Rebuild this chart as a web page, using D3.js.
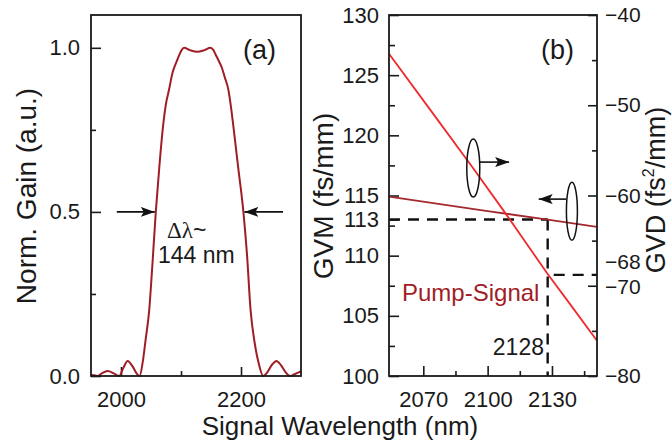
<!DOCTYPE html>
<html><head><meta charset="utf-8">
<script src="https://cdn.jsdelivr.net/npm/d3@7/dist/d3.min.js"></script>
<style>
body{margin:0;background:#fff}
text{font-family:"Liberation Sans",Arial,sans-serif;fill:#1a1a1a}
</style>
</head><body>
<svg id="c" width="672" height="441"></svg>
<script>
// ---------- data ----------
const gainWl  = [1950,1955,1961,1968,1978,1988,1997,2004,2011,2019,2026,2031,2036,2041,2047,2052,2058,2064,2070,2075,2080,2086,2092,2097,2101,2105,2115,2127,2139,2149,2154,2158,2163,2168,2173,2179,2184,2188,2195,2204,2210,2216,2222,2230,2237,2244,2252,2259,2267,2275,2282,2290,2300];
const gainVal = [0.004,0.002,0.0,0.008,0.015,0.008,0.0,0.025,0.046,0.03,0.008,0.0,0.04,0.11,0.20,0.33,0.5,0.64,0.76,0.83,0.872,0.925,0.955,0.978,0.993,1.0,0.993,0.988,0.993,1.0,0.993,0.978,0.96,0.94,0.91,0.872,0.81,0.75,0.64,0.5,0.37,0.2,0.11,0.035,0.0,0.012,0.035,0.046,0.032,0.01,0.0,0.006,0.014];

const gvmWl  = [2054, 2100, 2128, 2151];
const gvmVal = [114.9, 113.7, 113.0, 112.4];
const gvdWl  = [2054, 2076, 2093, 2109, 2116, 2128, 2138, 2151];
const gvdVal = [-44.3, -51.4, -56.9, -62.2, -64.6, -68.7, -71.9, -76.1];

const xTicksA = [2000, 2200], xMinorA = [2100];
const yTicksA = [0, 0.5, 1.0], yMinorA = [0.25, 0.75];
const xTicksB = [2070, 2100, 2130], xMinorB = [2085, 2115, 2145];
const gvmTicks = [100, 105, 110, 113, 115, 120, 125, 130];
const gvmMinor = [102.5, 107.5, 112.5, 117.5, 122.5, 127.5];
const gvdTicks = [-80, -70, -68, -60, -50, -40];
const gvdMinor = [-75, -65, -55, -45];

const markWl = 2128, markGvm = 113, markGvd = -68.8;
const fwhmLeft = 2058, fwhmRight = 2204;

// ---------- setup ----------
const svg = d3.select("#c");
const DARK = "#a11d26", BRIGHT = "#ee2a2d", GVMC = "#a3282e";
const TOP = 15, BOT = 376;

// ===== Panel (a) =====
const xa = d3.scaleLinear().domain([1950, 2300]).range([91, 301]);
const ya = d3.scaleLinear().domain([0, 1.1]).range([BOT, TOP]);
const ga = svg.append("g");

function styleAxis(g, fs){
  g.selectAll(".domain").remove();
  g.selectAll("line").attr("stroke","#1a1a1a").attr("stroke-width",1.6);
  g.selectAll("text").style("font-size", fs+"px").attr("fill","#1a1a1a");
}
ga.append("g").attr("transform",`translate(0,${BOT})`)
  .call(d3.axisBottom(xa).tickValues(xTicksA).tickSize(-9).tickPadding(15).tickFormat(d3.format("d")))
  .call(g=>styleAxis(g,22));
ga.append("g").attr("transform",`translate(0,${BOT})`)
  .call(d3.axisBottom(xa).tickValues(xMinorA).tickSize(-5).tickFormat(""))
  .call(g=>styleAxis(g,22));
ga.append("g").attr("transform",`translate(91,0)`)
  .call(d3.axisLeft(ya).tickValues(yTicksA).tickSize(-10).tickPadding(11).tickFormat(d3.format(".1f")))
  .call(g=>styleAxis(g,22));
ga.append("g").attr("transform",`translate(91,0)`)
  .call(d3.axisLeft(ya).tickValues(yMinorA).tickSize(-5).tickFormat(""))
  .call(g=>styleAxis(g,22));

const gainData = gainWl.map((w,i)=>[w,gainVal[i]]);
ga.append("path").datum(gainData)
  .attr("fill","none").attr("stroke",DARK).attr("stroke-width",2)
  .attr("d", d3.line().x(d=>xa(d[0])).y(d=>ya(d[1])).curve(d3.curveMonotoneX));

ga.append("rect").attr("x",91).attr("y",TOP).attr("width",210).attr("height",BOT-TOP)
  .attr("fill","none").attr("stroke","#1a1a1a").attr("stroke-width",1.8);

// arrow markers
const defs = svg.append("defs");
defs.append("marker").attr("id","ah").attr("markerUnits","userSpaceOnUse")
  .attr("viewBox","0 0 14 10").attr("refX",14).attr("refY",5)
  .attr("markerWidth",14).attr("markerHeight",10).attr("orient","auto")
  .append("path").attr("d","M0,0 L14,5 L0,10 L3,5 Z").attr("fill","#111");

ga.append("line").attr("x1",xa(1993)).attr("x2",xa(fwhmLeft)-1).attr("y1",ya(0.5)).attr("y2",ya(0.5))
  .attr("stroke","#111").attr("stroke-width",1.6).attr("marker-end","url(#ah)");
ga.append("line").attr("x1",xa(2270)).attr("x2",xa(fwhmRight)+1).attr("y1",ya(0.5)).attr("y2",ya(0.5))
  .attr("stroke","#111").attr("stroke-width",1.6).attr("marker-end","url(#ah)");

const dl = ga.append("text").attr("x",167).attr("y",238).style("font-size","23px");
dl.append("tspan").style("font-family","'Liberation Serif','Times New Roman',serif").text("Δλ");
dl.append("tspan").text("~");
ga.append("text").attr("x",158).attr("y",263).style("font-size","23px").text("144 nm");
ga.append("text").attr("x",243).attr("y",59).style("font-size","27px").text("(a)");

ga.append("text").attr("transform","translate(36,196) rotate(-90)")
  .attr("text-anchor","middle").style("font-size","28px").text("Norm. Gain (a.u.)");

// ===== Panel (b) =====
const xb = d3.scaleLinear().domain([2054, 2151]).range([389, 597]);
const yl = d3.scaleLinear().domain([100, 130]).range([BOT, TOP]);
const yr = d3.scaleLinear().domain([-80, -40]).range([BOT, TOP]);
const gb = svg.append("g");

gb.append("g").attr("transform",`translate(0,${BOT})`)
  .call(d3.axisBottom(xb).tickValues(xTicksB).tickSize(-10).tickPadding(15).tickFormat(d3.format("d")))
  .call(g=>styleAxis(g,22));
gb.append("g").attr("transform",`translate(0,${BOT})`)
  .call(d3.axisBottom(xb).tickValues(xMinorB).tickSize(-5).tickFormat(""))
  .call(g=>styleAxis(g,22));
gb.append("g").attr("transform",`translate(389,0)`)
  .call(d3.axisLeft(yl).tickValues(gvmTicks).tickSize(-10).tickPadding(10).tickFormat(d3.format("d")))
  .call(g=>styleAxis(g,22));
gb.append("g").attr("transform",`translate(389,0)`)
  .call(d3.axisLeft(yl).tickValues(gvmMinor).tickSize(-6).tickFormat(""))
  .call(g=>styleAxis(g,22));
const ra = gb.append("g").attr("transform",`translate(597,0)`)
  .call(d3.axisRight(yr).tickValues(gvdTicks).tickSize(-9).tickPadding(8).tickFormat(d3.format("d")))
  .call(g=>styleAxis(g,21));
ra.selectAll(".tick").filter(d=>d===-68).select("text").attr("y",-6);
ra.selectAll(".tick").filter(d=>d===-70).select("text").attr("y",1);
ra.selectAll(".tick").filter(d=>d===-68).select("line").remove();
gb.append("g").attr("transform",`translate(597,0)`)
  .call(d3.axisRight(yr).tickValues(gvdMinor).tickSize(-5).tickFormat(""))
  .call(g=>styleAxis(g,22));

defs.append("clipPath").attr("id","clipb").append("rect")
  .attr("x",389).attr("y",TOP).attr("width",208).attr("height",BOT-TOP);

const pb = gb.append("g").attr("clip-path","url(#clipb)");
// dashed guides
const dash = {stroke:"#111","stroke-width":2.4,"stroke-dasharray":"11,8"};
function dl2(x1,y1,x2,y2){const l=pb.append("line").attr("x1",x1).attr("y1",y1).attr("x2",x2).attr("y2",y2);
  for(const k in dash) l.attr(k,dash[k]); return l;}
dl2(xb(2054), yl(markGvm), xb(markWl), yl(markGvm));
dl2(xb(markWl), yl(markGvm), xb(markWl), yl(100));
dl2(xb(markWl)+6, yr(markGvd), xb(2151), yr(markGvd));

pb.append("path").datum(gvmWl.map((w,i)=>[w,gvmVal[i]]))
  .attr("fill","none").attr("stroke",GVMC).attr("stroke-width",1.8)
  .attr("d", d3.line().x(d=>xb(d[0])).y(d=>yl(d[1])));
pb.append("path").datum(gvdWl.map((w,i)=>[w,gvdVal[i]]))
  .attr("fill","none").attr("stroke",BRIGHT).attr("stroke-width",1.8)
  .attr("d", d3.line().x(d=>xb(d[0])).y(d=>yr(d[1])));

// ellipses + arrows
gb.append("ellipse").attr("cx",xb(2093.3)).attr("cy",yr(-56.95)).attr("rx",6.5).attr("ry",29)
  .attr("fill","none").attr("stroke","#111").attr("stroke-width",1.5);
gb.append("line").attr("x1",xb(2096.3)).attr("x2",xb(2110)).attr("y1",yr(-56.3)).attr("y2",yr(-56.3))
  .attr("stroke","#111").attr("stroke-width",1.6).attr("marker-end","url(#ah)");
gb.append("ellipse").attr("cx",xb(2139.3)).attr("cy",yl(113.7)).attr("rx",5.5).attr("ry",29)
  .attr("fill","none").attr("stroke","#111").attr("stroke-width",1.5);
gb.append("line").attr("x1",xb(2136.6)).attr("x2",xb(2123.8)).attr("y1",yl(114.7)).attr("y2",yl(114.7))
  .attr("stroke","#111").attr("stroke-width",1.6).attr("marker-end","url(#ah)");

gb.append("rect").attr("x",389).attr("y",TOP).attr("width",208).attr("height",BOT-TOP)
  .attr("fill","none").attr("stroke","#1a1a1a").attr("stroke-width",1.8);

gb.append("text").attr("x",541).attr("y",59).style("font-size","27px").text("(b)");
gb.append("text").attr("x",402).attr("y",301).style("font-size","24px").style("fill",DARK).text("Pump-Signal");
gb.append("text").attr("x",544).attr("y",355).attr("text-anchor","end").style("font-size","23px").text("2128");

gb.append("text").attr("transform","translate(333,196) rotate(-90)")
  .attr("text-anchor","middle").style("font-size","28px").text("GVM (fs/mm)");
const gvdT = gb.append("text").attr("transform","translate(665,190) rotate(-90)")
  .attr("text-anchor","middle").style("font-size","27px");
gvdT.append("tspan").text("GVD (fs");
gvdT.append("tspan").attr("dy",-11).style("font-size","16px").text("2");
gvdT.append("tspan").attr("dy",11).text("/mm)");

// shared x title
svg.append("text").attr("x",340).attr("y",435).attr("text-anchor","middle")
  .style("font-size","26px").text("Signal Wavelength (nm)");
</script>
</body></html>
